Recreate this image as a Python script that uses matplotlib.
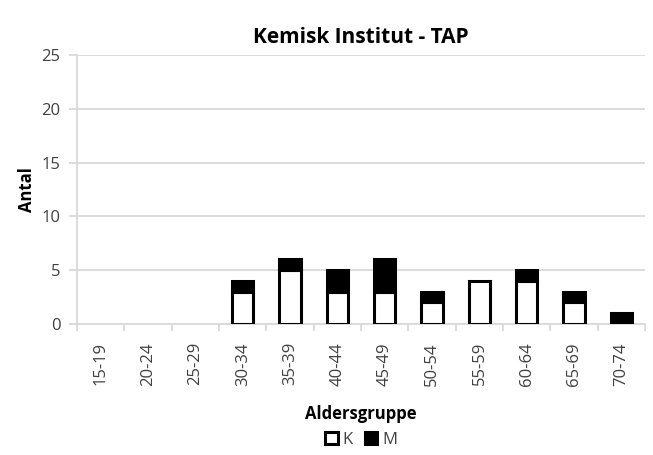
import matplotlib.pyplot as plt
import numpy as np

plt.rcParams['font.family'] = ['Open Sans', 'DejaVu Sans']

# data
groups = ['15-19', '20-24', '25-29', '30-34', '35-39', '40-44',
          '45-49', '50-54', '55-59', '60-64', '65-69', '70-74']
k_vals = [0, 0, 0, 3, 5, 3, 3, 2, 4, 4, 2, 0]
m_vals = [0, 0, 0, 1, 1, 2, 3, 1, 0, 1, 1, 1]
y_ticks = [0, 5, 10, 15, 20, 25]

fig = plt.figure(figsize=(6.53, 4.55), dpi=100)
ax = fig.add_axes([0.118, 0.288, 0.870, 0.591])

x = np.arange(len(groups))
k = np.array(k_vals, dtype=float)
m = np.array(m_vals, dtype=float)
grid_col = '#d9d9d9'
txt_col = '#404040'

# empty segments are not drawn
k_draw = np.where(k > 0, k, np.nan)
m_draw = np.where(m > 0, m, np.nan)

ax.bar(x, k_draw, width=0.45, color='white', edgecolor='black', linewidth=2.2,
       label='K', zorder=3)
ax.bar(x, m_draw, bottom=k, width=0.45, color='black', edgecolor='black',
       linewidth=2.2, label='M', zorder=3)

ax.set_xlim(-0.5, len(groups) - 0.5)
ax.set_ylim(0, 25)
ax.set_yticks(y_ticks)
ax.yaxis.grid(True, color=grid_col, linewidth=1.3)
ax.set_axisbelow(True)

ax.set_xticks(x)
ax.set_xticklabels(groups, rotation=90, fontsize=12, color=txt_col)
ax.set_xticks(np.arange(-0.5, len(groups)), minor=True)
ax.tick_params(axis='x', which='major', length=0, pad=13)
ax.tick_params(axis='x', which='minor', length=5, color=grid_col, width=1.3)
ax.tick_params(axis='y', length=6, color=grid_col, width=1.3, labelsize=12,
               labelcolor=txt_col, pad=6)

for s in ['top', 'right']:
    ax.spines[s].set_visible(False)
ax.spines['left'].set_color(grid_col)
ax.spines['left'].set_linewidth(1.3)
ax.spines['bottom'].set_color(grid_col)
ax.spines['bottom'].set_linewidth(1.3)

ax.set_title('Kemisk Institut - TAP', fontsize=15, fontweight='bold', pad=9)
ax.set_ylabel('Antal', fontsize=12, fontweight='bold', labelpad=4)
ax.set_xlabel('Aldersgruppe', fontsize=12, fontweight='bold', labelpad=14)

ax.legend(loc='upper center', bbox_to_anchor=(0.5, -0.345), ncol=2, frameon=False,
          fontsize=12, handlelength=0.75, handleheight=0.75, handletextpad=0.3,
          columnspacing=0.7, labelcolor=txt_col)

fig.savefig('out.png', dpi=100)
